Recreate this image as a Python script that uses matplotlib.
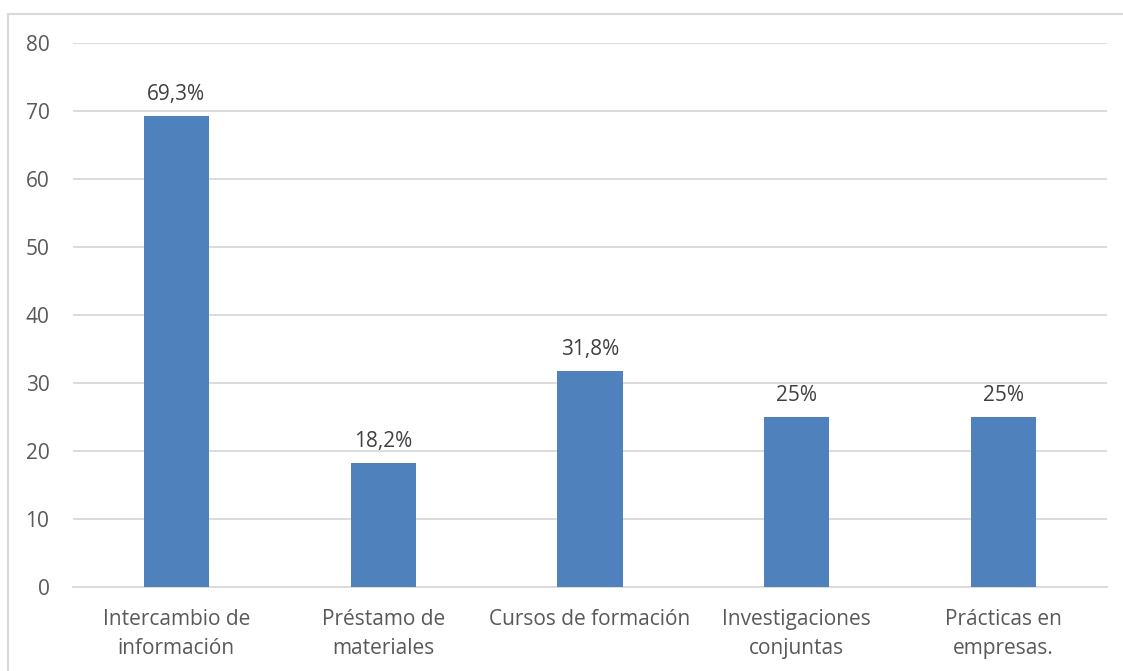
import matplotlib
matplotlib.use("Agg")
import matplotlib.pyplot as plt
from matplotlib.lines import Line2D

# datos del grafico
categorias = ["Intercambio de\ninformación", "Préstamo de\nmateriales", "Cursos de formación",
              "Investigaciones\nconjuntas", "Prácticas en\nempresas."]
valores = [69.3, 18.2, 31.8, 25, 25]
etiquetas = ["69,3%", "18,2%", "31,8%", "25%", "25%"]
yticks = [0, 10, 20, 30, 40, 50, 60, 70, 80]

gris_texto = "#595959"
gris_linea = "#D9D9D9"

plt.rcParams["font.family"] = ["Open Sans", "DejaVu Sans"]

fig = plt.figure(figsize=(11.23, 6.71), dpi=100)
ax = fig.add_axes([0.065, 0.1252, 0.9208, 0.8107])

x = range(len(categorias))
ax.bar(x, valores, width=0.315, color="#4F81BD", zorder=3)

for xi, v, t in zip(x, valores, etiquetas):
    ax.annotate(t, (xi, v), xytext=(0, 8), textcoords="offset points",
                ha="center", va="bottom", fontsize=15, color="#404040")

ax.set_xlim(-0.5, len(categorias) - 0.5)
ax.set_ylim(0, 80)
ax.set_yticks(yticks)
ax.set_xticks(list(x))
ax.set_xticklabels(categorias, fontsize=15, color=gris_texto, linespacing=1.5)
ax.tick_params(axis="y", labelsize=15, labelcolor=gris_texto, length=0, pad=17)
ax.tick_params(axis="x", length=0, pad=16)

ax.grid(axis="y", color=gris_linea, linewidth=1.3, zorder=0)
for s in ["top", "right", "left"]:
    ax.spines[s].set_visible(False)
ax.spines["bottom"].set_color(gris_linea)
ax.spines["bottom"].set_linewidth(1.3)

# borde del grafico
W, H = 1123, 671
fig.add_artist(Line2D([8 / W, 8 / W], [0, 1 - 14 / H], transform=fig.transFigure,
                      color=gris_linea, linewidth=1.5))
fig.add_artist(Line2D([8 / W, 1], [1 - 14 / H, 1 - 14 / H], transform=fig.transFigure,
                      color=gris_linea, linewidth=1.5))

fig.savefig("out.png", dpi=100)
